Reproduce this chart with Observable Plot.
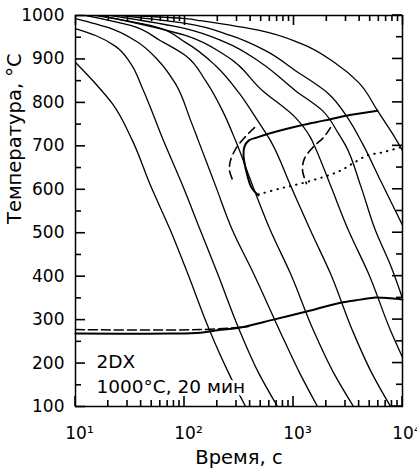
<!DOCTYPE html>
<html><head><meta charset="utf-8">
<script src="https://cdn.jsdelivr.net/npm/d3@7"></script>
<script src="https://cdn.jsdelivr.net/npm/@observablehq/plot@0.6"></script>
<style>body{margin:0;background:#fff}svg{display:block}</style>
</head><body><div id="chart"></div>
<script>
// Cooling curves: [time s, temperature °C]
const coolA = [[10,892],[15.3,843],[21.8,797],[33.3,712],[48.7,609],[74.4,505],[107,406],[170,275],[253,178],[363,100]];
const coolB = [[10,970],[15.3,954],[23.3,929],[32,890],[41.2,832],[64.1,712],[95.9,609],[140,505],[201,406],[320,275],[477,178],[713,100]];
const coolC = [[10,993],[20.1,972],[35.5,942],[57.7,896],[82.6,843],[114,758],[134,712],[192,609],[276,505],[430,406],[745,275],[1135,178],[1660,100]];
const coolD = [[12.35,1000],[32,977],[60.2,942],[102,908],[156,850],[223,781],[294,712],[421,609],[615,505],[938,406],[1525,275],[2328,178],[3551,100]];
const coolE = [[15.3,1000],[48.7,977],[102,938],[192,885],[320,820],[450,765],[615,712],[938,609],[1433,505],[2184,406],[3475,275],[5200,178],[7767,100]];
const coolF = [[17,1000],[102,954],[238,908],[520,827],[1043,765],[1433,719],[1525,705],[2184,609],[3197,505],[4876,406],[7767,275],[10000,213]];
const coolG = [[21,1000],[102,970],[238,938],[498,892],[1043,827],[1845,781],[2588,728],[3002,701],[4118,609],[5653,505],[7767,425],[10000,349]];
const coolH = [[25.9,1000],[102,982],[264,954],[553,919],[1043,873],[2095,820],[3130,765],[4296,705],[6285,620],[10000,517]];
const coolK = [[32,1000],[102,993],[140,988],[498,965],[1159,936],[2428,890],[3947,846],[5895,781],[8100,728],[10000,689]];
const coolingCurves = [coolA, coolB, coolC, coolD, coolE, coolF, coolG, coolH, coolK];

// Transformation lines
const ferriteStart = [[477,586],[412,604],[371,639],[348,678],[355,698],[387,712],[458,719],[590,728],[1159,747],[1885,758],[3130,770],[5895,781]];
const ferriteFinish = [[477,588],[760,602],[1159,613],[2095,632],[2700,643],[3475,659],[4774,678],[6561,685],[10000,698]];
const arcLeft = [[439,742],[371,724],[300,696],[264,666],[259,643],[282,616]];
const arcRight = [[2184,742],[1885,719],[1525,698],[1262,671],[1211,643],[1317,613]];
const msDashed = [[10,277],[140,277],[387,284]];
const bainiteSolid = [[10,268],[74.4,268],[140,270],[192,275],[327,282],[655,300],[1433,321],[2700,339],[4118,346],[5653,351],[7767,349],[10000,346]];

// Axes
const yMajor = [100,200,300,400,500,600,700,800,900,1000];
const yMinor = [150,250,350,450,550,650,750,850,950];
const xMajor = [10,100,1000,10000];
const xTickLabels = ["10¹","10²","10³","10⁴"];
const xMinor = [20,30,40,50,60,70,80,90,200,300,400,500,600,700,800,900,2000,3000,4000,5000,6000,7000,8000,9000];
const annotation = ["2DX","1000°C, 20 мин"];

const W = 417, H = 472, ML = 75, MR = 15, MT = 15, MB = 66;
const MAJOR = 10, MINOR = 6, TW = 1.6;

const coolRows = coolingCurves.flatMap((c, i) => c.map(([t, T]) => ({t, T, id: i})));
const toRows = c => c.map(([t, T]) => ({t, T}));
const tickDash = len => `${len},10000`;

const chart = Plot.plot({
  width: W, height: H,
  marginLeft: ML, marginRight: MR, marginTop: MT, marginBottom: MB,
  x: {type: "log", domain: [10, 10000]},
  y: {domain: [100, 1000]},
  style: {fontFamily: "DejaVu Sans", fontSize: "17px", color: "black", background: "white"},
  marks: [
    Plot.axisY(yMajor, {anchor: "left", tickSize: 0, tickPadding: 11, fontSize: 17, label: null, tickFormat: d => `${d}`}),
    Plot.axisX(xMajor, {anchor: "bottom", tickSize: 0, tickPadding: 20, fontSize: 17, label: null, dx: 4,
      tickFormat: d => xTickLabels[xMajor.indexOf(d)]}),
    // inward ticks on left and top edges (rules dashed so only the start shows)
    Plot.ruleY(yMajor, {y: d => d, stroke: "black", strokeWidth: TW, strokeDasharray: tickDash(MAJOR)}),
    Plot.ruleY(yMinor, {y: d => d, stroke: "black", strokeWidth: TW, strokeDasharray: tickDash(MINOR)}),
    Plot.ruleX(xMajor, {x: d => d, stroke: "black", strokeWidth: TW, strokeDasharray: tickDash(MAJOR)}),
    Plot.ruleX(xMinor, {x: d => d, stroke: "black", strokeWidth: TW, strokeDasharray: tickDash(MINOR)}),
    Plot.line(coolRows, {x: "t", y: "T", z: "id", stroke: "black", strokeWidth: 1.3, curve: "monotone-y", clip: true}),
    Plot.line(toRows(ferriteStart), {x: "t", y: "T", stroke: "black", strokeWidth: 2, curve: "catmull-rom"}),
    Plot.line(toRows(ferriteFinish), {x: "t", y: "T", stroke: "black", strokeWidth: 2, strokeDasharray: "0.5,6", strokeLinecap: "round", curve: "catmull-rom"}),
    Plot.line(toRows(arcLeft), {x: "t", y: "T", stroke: "black", strokeWidth: 1.6, strokeDasharray: "8,5", curve: "catmull-rom"}),
    Plot.line(toRows(arcRight), {x: "t", y: "T", stroke: "black", strokeWidth: 1.6, strokeDasharray: "8,5", curve: "catmull-rom"}),
    Plot.line(toRows(msDashed), {x: "t", y: "T", stroke: "black", strokeWidth: 1.5, strokeDasharray: "9,4", curve: "catmull-rom"}),
    Plot.line(toRows(bainiteSolid), {x: "t", y: "T", stroke: "black", strokeWidth: 2, curve: "catmull-rom"}),
    Plot.text([annotation[0]], {frameAnchor: "bottom-left", textAnchor: "start", lineAnchor: "bottom", dx: 21, dy: -39, fontSize: 18.5, fill: "black", stroke: "white", strokeWidth: 6}),
    Plot.text([annotation[1]], {frameAnchor: "bottom-left", textAnchor: "start", lineAnchor: "bottom", dx: 21, dy: -14, fontSize: 18.5, fill: "black", stroke: "white", strokeWidth: 6}),
    Plot.text(["Температура, °C"], {frameAnchor: "left", dx: -61, dy: 13, rotate: -90, fontSize: 19.5, fill: "black"}),
    Plot.text(["Время, с"], {frameAnchor: "bottom", lineAnchor: "bottom", dy: 57, fontSize: 19.5, fill: "black"}),
    Plot.frame({stroke: "black", strokeWidth: 1.5})
  ]
});

// inward ticks on right and bottom edges, placed with the chart's own scales
const svgEl = chart.tagName.toLowerCase() === "svg" ? chart : chart.querySelector("svg");
const sx = chart.scale("x"), sy = chart.scale("y");
const xr = sx.range.slice().sort((a, b) => a - b), yr = sy.range.slice().sort((a, b) => a - b);
const g = d3.select(svgEl).append("g").attr("stroke", "black").attr("stroke-width", TW).attr("fill", "none");
const addLine = (a, b, c, d) => g.append("path").attr("d", `M${a},${b}L${c},${d}`);
[[yMajor, MAJOR], [yMinor, MINOR]].forEach(([vals, len]) => vals.forEach(v => {
  const y = +sy.apply(v);
  addLine(xr[1] - len, y, xr[1], y);
}));
[[xMajor, MAJOR], [xMinor, MINOR]].forEach(([vals, len]) => vals.forEach(v => {
  const x = +sx.apply(v);
  addLine(x, yr[1] - len, x, yr[1]);
}));

document.getElementById("chart").appendChild(chart);
</script>
</body></html>
